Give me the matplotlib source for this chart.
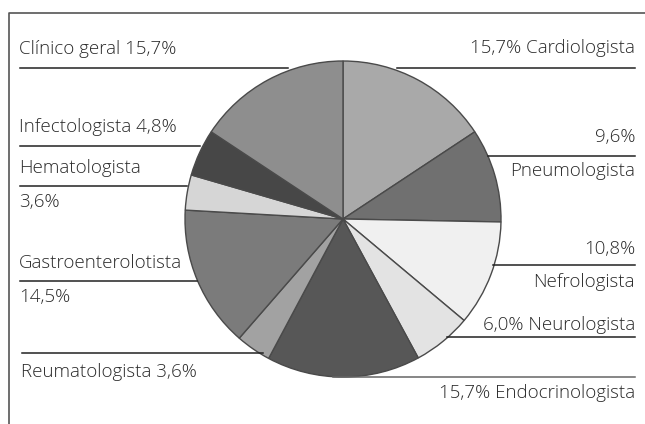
import matplotlib.pyplot as plt

# especialidades, no sentido horário a partir do topo
labels = ['Cardiologista', 'Pneumologista', 'Nefrologista', 'Neurologista', 'Endocrinologista',
          'Reumatologista', 'Gastroenterolotista', 'Hematologista', 'Infectologista', 'Clínico geral']
values = [15.7, 9.6, 10.8, 6.0, 15.7, 3.6, 14.5, 3.6, 4.8, 15.7]
colors = ['#a9a9a9', '#707070', '#f0f0f0', '#e3e3e3', '#575757',
          '#a2a2a2', '#7b7b7b', '#d6d6d6', '#474747', '#8e8e8e']

W, H = 645, 424


def pct(v):
    return ('%.1f%%' % v).replace('.', ',')


plt.rcParams['font.family'] = ['Open Sans', 'DejaVu Sans']

fig = plt.figure(figsize=(W / 100, H / 100), dpi=100)
ax = fig.add_axes([0, 0, 1, 1])

ax.pie(values, colors=colors, startangle=90, counterclock=False,
       center=(343, H - 219), radius=158,
       wedgeprops=dict(edgecolor='#4a4a4a', linewidth=1.0))
ax.set_xlim(0, W)
ax.set_ylim(0, H)
ax.set_aspect('auto')
ax.axis('off')

# moldura (esquerda e topo)
ax.plot([9, 9, W], [0, H - 13, H - 13], color='#555555', lw=1.2)

fs = 13.5
tc = '#2a2a2a'

# (texto, x, y_img, ha)
texts = [
    ('Clínico geral ' + pct(values[9]), 19, 49, 'left'),
    ('Infectologista ' + pct(values[8]), 19, 127, 'left'),
    ('Hematologista', 19, 168, 'left'),
    (pct(values[7]), 19, 202, 'left'),
    ('Gastroenterolotista', 19, 263, 'left'),
    (pct(values[6]), 19, 297, 'left'),
    ('Reumatologista ' + pct(values[5]), 21, 372, 'left'),
    (pct(values[0]) + ' Cardiologista', 635, 48, 'right'),
    (pct(values[1]), 635, 137, 'right'),
    ('Pneumologista', 635, 171, 'right'),
    (pct(values[2]), 635, 249, 'right'),
    ('Nefrologista', 635, 282, 'right'),
    (pct(values[3]) + ' Neurologista', 635, 325, 'right'),
    (pct(values[4]) + ' Endocrinologista', 635, 393, 'right'),
]
for s, x, y, ha in texts:
    ax.text(x, H - y, s, ha=ha, va='center', fontsize=fs, color=tc, fontweight='light')

# linhas de chamada (x0, x1, y_img, cor)
lines = [
    (20, 288, 68, '#222222'),
    (20, 200, 146, '#222222'),
    (20, 187, 186, '#222222'),
    (20, 197, 281, '#222222'),
    (22, 263, 353, '#222222'),
    (397, 635, 68, '#222222'),
    (488, 635, 156, '#222222'),
    (493, 635, 265, '#222222'),
    (447, 635, 337, '#222222'),
    (333, 635, 377, '#666666'),
]
for x0, x1, y, c in lines:
    ax.plot([x0, x1], [H - y, H - y], color=c, lw=1.1)

fig.savefig('out.png', dpi=100)
